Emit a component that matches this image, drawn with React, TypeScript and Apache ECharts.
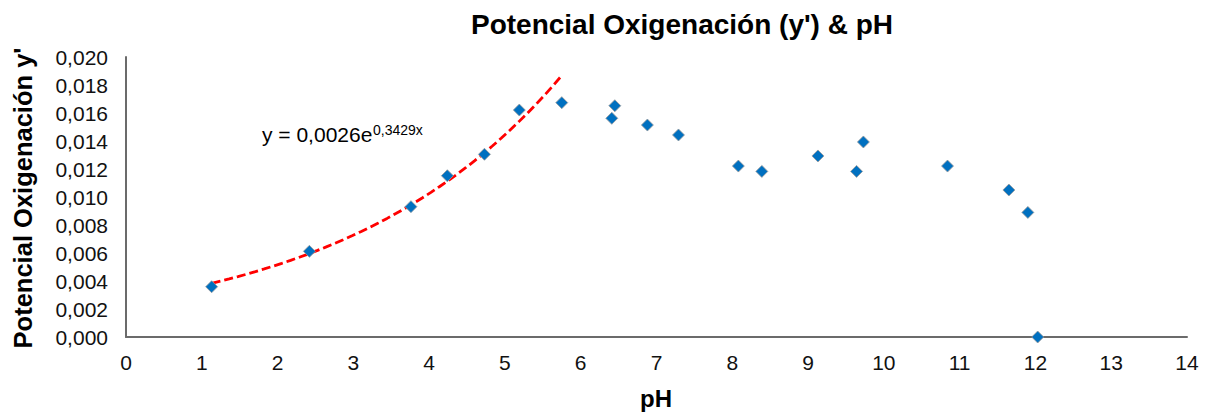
import React, { useEffect, useRef } from "react";
import * as echarts from "echarts";

const phValues = [1.13, 2.42, 3.76, 4.24, 4.73, 5.19, 5.75, 6.41, 6.45, 6.88, 7.29, 8.08, 8.39, 9.13, 9.64, 9.73, 10.84, 11.65, 11.9, 12.03];
const oxValues = [0.00359, 0.00612, 0.00931, 0.01152, 0.01305, 0.01621, 0.01674, 0.01562, 0.01652, 0.01514, 0.01443, 0.01221, 0.01183, 0.01293, 0.01183, 0.01393, 0.01221, 0.0105, 0.0089, 0.0];

// Exponential trendline shown in the chart: y = 0,0026 e^(0,3429x)
const TREND_A = 0.0026;
const TREND_B = 0.3429;
const TREND_X_START = 1.13;
const TREND_X_END = 5.76;
const TREND_STEPS = 40;

const titleText = "Potencial Oxigenación (y') & pH";
const xAxisName = "pH";
const yAxisName = "Potencial Oxigenación y'";
const eqMain = "y = 0,0026e";
const eqSup = "0,3429x";

const FONT = "'Liberation Sans', Arial, sans-serif";

export default function App() {
  const ref = useRef<HTMLDivElement>(null);
  useEffect(() => {
    if (!ref.current) return;
    const chart = echarts.init(ref.current, null, { renderer: "svg" });
    const scatterData = phValues.map((x, i) => [x, oxValues[i]]);
    const trendData: number[][] = [];
    for (let i = 0; i <= TREND_STEPS; i++) {
      const x = TREND_X_START + ((TREND_X_END - TREND_X_START) * i) / TREND_STEPS;
      trendData.push([x, TREND_A * Math.exp(TREND_B * x)]);
    }
    chart.setOption({
      animation: false,
      backgroundColor: "#ffffff",
      grid: { left: 126, right: 20, top: 57, bottom: 75, containLabel: false },
      xAxis: {
        type: "value",
        min: 0,
        max: 14,
        interval: 1,
        axisLine: { show: true, lineStyle: { color: "#6b6b6b", width: 2 } },
        axisTick: { show: false },
        splitLine: { show: false },
        axisLabel: { fontSize: 21, color: "#111", fontFamily: FONT, margin: 15 },
      },
      yAxis: {
        type: "value",
        min: 0,
        max: 0.02,
        interval: 0.002,
        axisLine: { show: true, lineStyle: { color: "#6b6b6b", width: 2 } },
        axisTick: { show: false },
        splitLine: { show: false },
        axisLabel: {
          fontSize: 21,
          color: "#111",
          fontFamily: FONT,
          margin: 18,
          formatter: (v: number) => v.toFixed(3).replace(".", ","),
        },
      },
      series: [
        {
          type: "line",
          data: trendData,
          showSymbol: false,
          smooth: false,
          lineStyle: { color: "#ff0000", width: 2.8, type: [9, 4] },
          z: 2,
        },
        {
          type: "scatter",
          data: scatterData,
          symbol: "diamond",
          symbolSize: 12,
          itemStyle: { color: "#0070c0", borderColor: "#9a9a9a", borderWidth: 0.8, opacity: 1 },
          z: 3,
        },
      ],
      graphic: [
        {
          type: "text",
          x: 682,
          y: 24,
          style: {
            text: titleText,
            fontSize: 28,
            fontWeight: "bold",
            fontFamily: FONT,
            fill: "#000",
            textAlign: "center",
            textVerticalAlign: "middle",
          },
        },
        {
          type: "text",
          x: 656,
          y: 398,
          style: {
            text: xAxisName,
            fontSize: 24,
            fontWeight: "bold",
            fontFamily: FONT,
            fill: "#000",
            textAlign: "center",
            textVerticalAlign: "middle",
          },
        },
        {
          type: "text",
          x: 23,
          y: 198,
          rotation: Math.PI / 2,
          style: {
            text: yAxisName,
            fontSize: 25.5,
            fontWeight: "bold",
            fontFamily: FONT,
            fill: "#000",
            textAlign: "center",
            textVerticalAlign: "middle",
          },
        },
        {
          type: "text",
          x: 262,
          y: 134,
          style: {
            text: eqMain,
            fontSize: 21,
            fontFamily: FONT,
            fill: "#000",
            textAlign: "left",
            textVerticalAlign: "middle",
          },
        },
        {
          type: "text",
          x: 373,
          y: 130,
          style: {
            text: eqSup,
            fontSize: 14,
            fontFamily: FONT,
            fill: "#000",
            textAlign: "left",
            textVerticalAlign: "middle",
          },
        },
      ],
    });
    return () => chart.dispose();
  }, []);
  return <div ref={ref} style={{ width: 1207, height: 412, position: "absolute", left: 0, top: 0 }} />;
}
